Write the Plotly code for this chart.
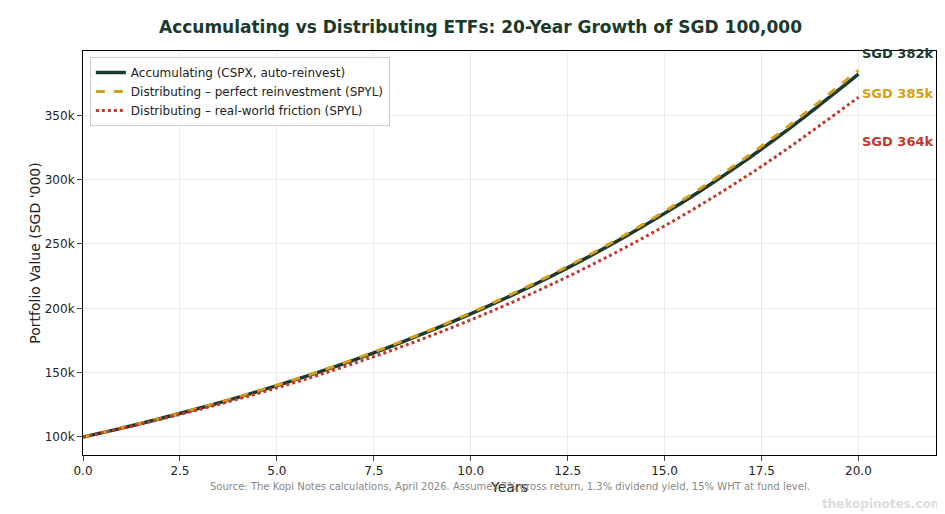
import plotly.graph_objects as go

years = list(range(0, 21))
accumulating = [100, 106.9, 114.4, 122.3, 130.8, 139.9, 149.6, 160.0, 171.1, 183.0, 195.7,
                209.3, 223.8, 239.4, 256.0, 273.8, 292.8, 313.1, 334.9, 358.1, 382]
perfect = [100, 107.0, 114.5, 122.5, 131.0, 140.2, 150.0, 160.5, 171.7, 183.7, 196.5,
           210.2, 224.9, 240.6, 257.4, 275.4, 294.6, 315.2, 337.2, 360.7, 385]
friction = [100, 106.7, 113.8, 121.4, 129.5, 138.2, 147.4, 157.3, 167.8, 179.0, 191.0,
            203.8, 217.4, 232.0, 247.5, 264.0, 281.7, 300.5, 320.6, 342.1, 364]

GREEN, GOLD, RED = "#1b3a2b", "#d4a017", "#c0392b"

fig = go.Figure()
fig.add_trace(go.Scatter(x=years, y=accumulating, mode="lines", name="Accumulating (CSPX, auto-reinvest)",
                         line=dict(color=GREEN, width=3.5), line_shape="spline"))
fig.add_trace(go.Scatter(x=years, y=perfect, mode="lines", name="Distributing – perfect reinvestment (SPYL)",
                         line=dict(color=GOLD, width=3, dash="dash"), line_shape="spline"))
fig.add_trace(go.Scatter(x=years, y=friction, mode="lines", name="Distributing – real-world friction (SPYL)",
                         line=dict(color=RED, width=3, dash="dot"), line_shape="spline"))

# end labels
for val, ypos, col in [(accumulating[-1], 398, GREEN), (perfect[-1], 367, GOLD), (friction[-1], 330, RED)]:
    fig.add_annotation(x=20.05, y=ypos, text=f"<b>SGD {val:.0f}k</b>", showarrow=False,
                       xanchor="left", font=dict(color=col, size=13))

fig.add_annotation(x=0.5, y=-0.06, xref="paper", yref="paper", yanchor="top", showarrow=False,
                   text="Source: The Kopi Notes calculations, April 2026. Assumes 7% gross return, 1.3% dividend yield, 15% WHT at fund level.",
                   font=dict(size=10, color="#888888"))
fig.add_annotation(x=1.01, y=-0.10, xref="paper", yref="paper", yanchor="top", xanchor="right", showarrow=False,
                   text="<b>thekopinotes.com</b>", font=dict(size=12, color="#dddddd"))

fig.update_layout(
    width=945, height=514, template="none",
    font=dict(family="DejaVu Sans", size=12, color="#222222"),
    title=dict(text="<b>Accumulating vs Distributing ETFs: 20-Year Growth of SGD 100,000</b>",
               x=0.5, y=0.975, xanchor="center", font=dict(size=17, color=GREEN)),
    margin=dict(l=75, r=17, t=43, b=67),
    plot_bgcolor="white", paper_bgcolor="white",
    legend=dict(x=0.008, y=0.985, xanchor="left", yanchor="top", bgcolor="white",
                bordercolor="#cccccc", borderwidth=1, font=dict(size=12)),
    showlegend=True,
)
fig.update_xaxes(range=[0, 22], tickvals=[0, 2.5, 5, 7.5, 10, 12.5, 15, 17.5, 20],
                 ticktext=["0.0", "2.5", "5.0", "7.5", "10.0", "12.5", "15.0", "17.5", "20.0"],
                 title=dict(text="Years", standoff=4, font=dict(size=14)),
                 showgrid=True, gridcolor="#ebebeb", showline=True, linecolor="black", mirror=True,
                 ticks="outside", zeroline=False)
fig.update_yaxes(range=[86, 400], tickvals=[100, 150, 200, 250, 300, 350],
                 ticktext=["100k", "150k", "200k", "250k", "300k", "350k"],
                 title=dict(text="Portfolio Value (SGD '000)", font=dict(size=14)),
                 showgrid=True, gridcolor="#ebebeb", showline=True, linecolor="black", mirror=True,
                 ticks="outside", zeroline=False)

fig.write_html("out.html")
